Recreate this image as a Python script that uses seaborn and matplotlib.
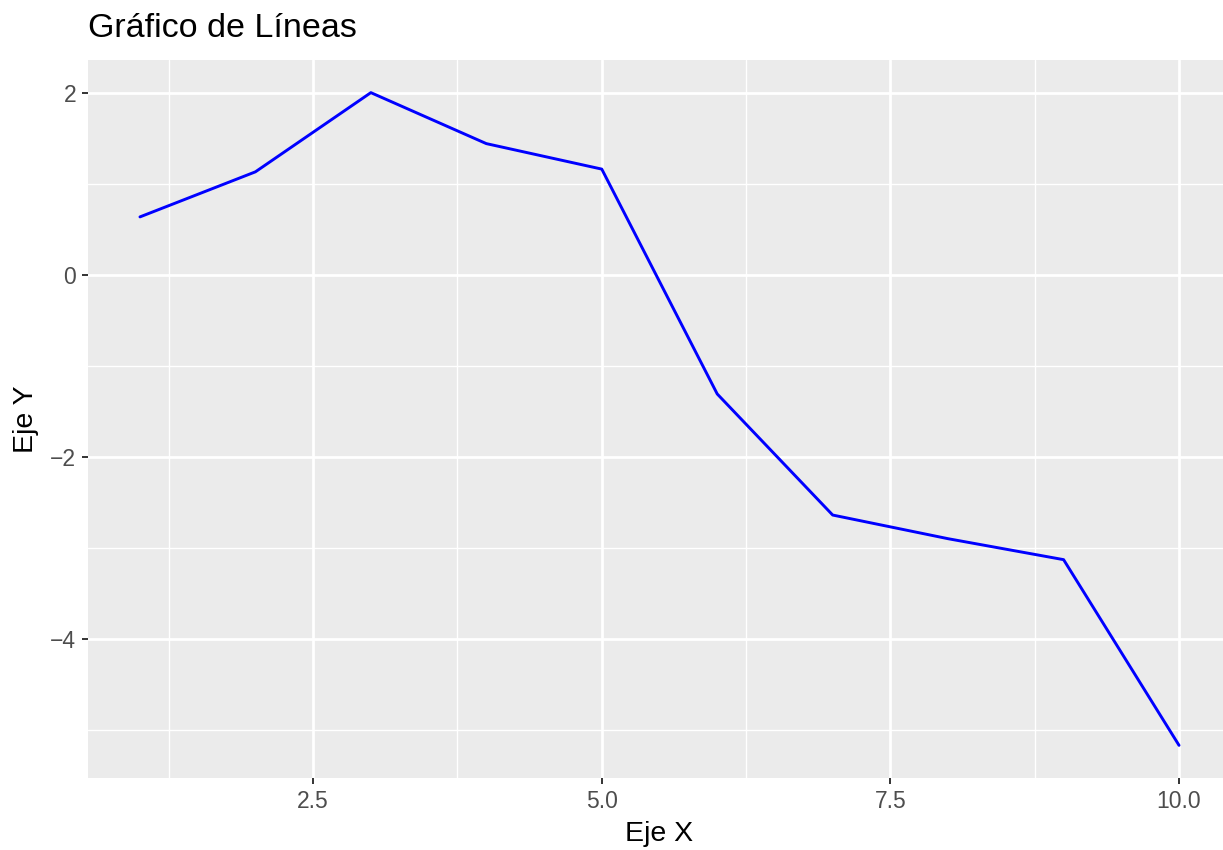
import numpy as np
import pandas as pd
import seaborn as sns
import matplotlib.pyplot as plt
from matplotlib.ticker import MultipleLocator, AutoMinorLocator

# valores
x_vals = [1, 2, 3, 4, 5, 6, 7, 8, 9, 10]
y_vals = [0.635, 1.13, 2.00, 1.44, 1.16, -1.31, -2.64, -2.90, -3.13, -5.17]

df = pd.DataFrame({'x': x_vals, 'y': y_vals})

sns.set_theme(style="darkgrid", rc={
    "axes.facecolor": "#EBEBEB",
    "grid.color": "white",
})
plt.rcParams['font.family'] = ['Liberation Sans', 'DejaVu Sans']

fig = plt.figure(figsize=(12.23, 8.5), dpi=100)
# el panel sobresale un poco por la derecha, como en la referencia
ax = fig.add_axes([88/1223, 1 - 778/850, (1231 - 88)/1223, (778 - 60)/850])

sns.lineplot(data=df, x='x', y='y', color='blue', linewidth=2.1, ax=ax)

ax.set_xlim(0.55, 10.45)
ax.set_ylim(-5.5285, 2.3585)
ax.set_xticks([2.5, 5.0, 7.5, 10.0])
ax.set_xticklabels(['2.5', '5.0', '7.5', '10.0'])
ax.set_yticks([-4, -2, 0, 2])
ax.set_yticklabels(['\u22124', '\u22122', '0', '2'])
ax.xaxis.set_minor_locator(AutoMinorLocator(2))
ax.yaxis.set_minor_locator(AutoMinorLocator(2))
ax.grid(which='major', color='white', linewidth=2.0)
ax.grid(which='minor', color='white', linewidth=1.0)
ax.tick_params(axis='both', which='major', length=4.5, width=1.4, color='#333333',
               labelsize=16.5, labelcolor='#4D4D4D', pad=4, direction='out',
               bottom=True, left=True)
ax.tick_params(which='minor', length=0)
for s in ax.spines.values():
    s.set_visible(False)

ax.set_xlabel("Eje X", fontsize=20.5, color='black', labelpad=6)
ax.set_ylabel("Eje Y", fontsize=20.5, color='black', labelpad=8)
ax.set_title("Gráfico de Líneas", fontsize=24.5, color='black', loc='left', pad=16.5)

fig.savefig("out.png", dpi=100)
